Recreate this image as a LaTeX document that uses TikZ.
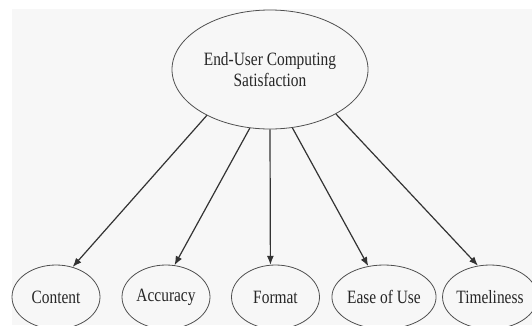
\documentclass[tikz,border=0pt]{standalone}
\usepackage{fontspec}
\setmainfont[FakeStretch=0.82]{Liberation Serif}
\usetikzlibrary{shapes.geometric,arrows.meta}
\definecolor{paper}{HTML}{F7F7F7}
\definecolor{rim}{HTML}{505050}
\definecolor{ink}{HTML}{262626}
\definecolor{wire}{HTML}{333333}

\begin{document}
\begin{tikzpicture}[x=1pt,y=-1pt,
  construct/.style={ellipse,draw=rim,line width=.8pt,text=ink,inner sep=0pt,align=center,font=\fontsize{18.8}{21.5}\selectfont},
  facet/.style={construct,minimum width=88pt,minimum height=64pt},
  link/.style={-{Latex[length=9pt,width=7pt]},wire,line width=1.2pt}]
\useasboundingbox (0,0) rectangle (532,325);
\fill[white] (0,0) rectangle (532,325);
\fill[paper] (12,9) rectangle (532,325);
\node[construct,minimum width=196pt,minimum height=119pt] (eucs) at (270,69.5){End-User Computing\\Satisfaction};
\node[facet] (content) at (56,297){Content};
\node[facet] (accuracy) at (166,297){Accuracy};
\node[facet] (format) at (275.5,297){Format};
\node[facet] (ease) at (384,297){Ease of Use};
\node[facet] (timeliness) at (490,297){Timeliness};
\draw[link] (eucs.-144.6)--(content.61);\draw[link] (eucs.-109.7)--(accuracy.75);\draw[link] (eucs.-90)--(format.99);
\draw[link] (eucs.-69.4)--(ease.117);\draw[link] (eucs.-34.4)--(timeliness.111.5);
\end{tikzpicture}
\end{document}
